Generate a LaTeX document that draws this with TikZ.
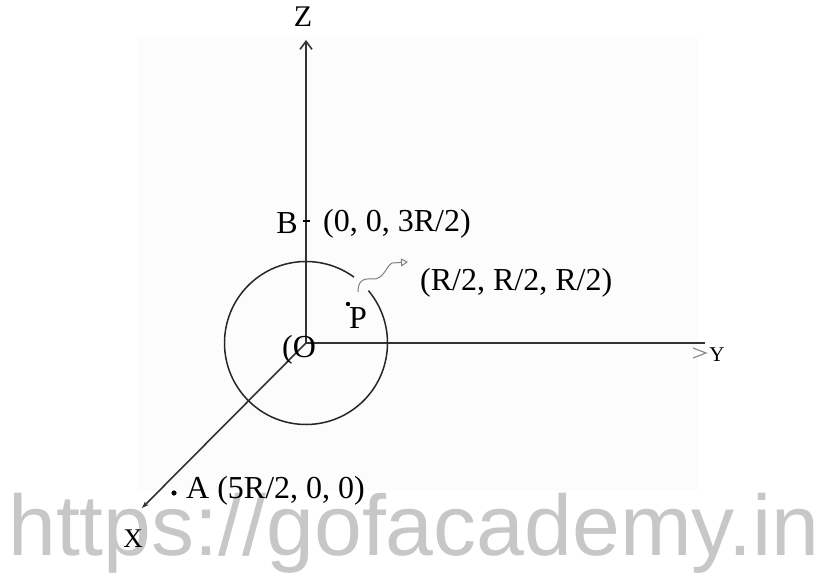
\documentclass[tikz,border=0pt]{standalone}
\usepackage{fontspec}
\setmainfont{Liberation Serif}
\newfontfamily\wmfont{Liberation Sans}
\usetikzlibrary{arrows.meta}

\begin{document}
\begin{tikzpicture}[
    x=1pt, y=-1pt,
    axis/.style={draw=black!80, line width=1.6pt},
    lbl/.style={inner sep=0pt, font=\fontsize{32}{36}\selectfont},
    dotmark/.style={fill=black, draw=none}
  ]
    \useasboundingbox (0,0) rectangle (822,573);
    \clip (0,0) rectangle (822,573);
    \fill[black!1] (139,37) rectangle (698,490);

    % watermark
    \node[inner sep=0pt, anchor=base west, text=black!22, font=\wmfont\fontsize{86}{90}\selectfont] (wm) at (8,555) {https://gofacademy.in};

    \coordinate (O) at (306,343);
    \coordinate (ztip) at (306,40);
    \coordinate (ytip) at (705,343);
    \coordinate (xtip) at (142,508);
    \coordinate (btick) at (306,221);
    \coordinate (pt) at (348,304);
    \coordinate (apt) at (174,493);
    \coordinate (wavy) at (358,292);
    \coordinate (wavyend) at (408,262);

    % axes
    \draw[axis, -{Straight Barb[length=8pt,width=12pt]}] (O) -- (ztip);
    \draw[axis] (O) -- (ytip);
    \draw[axis, -{Stealth[length=7pt,width=5pt]}] (O) -- (xtip);
    \draw[black!45, line width=1.2pt] (693,348) -- (706,353) -- (693,358);

    % sphere with a gap
    \draw[black!85, line width=1.5pt] (O) ++(-40:81.5) arc[start angle=-40, end angle=306, radius=81.5];

    % points
    \draw[line width=1.5pt] ([xshift=-3.5pt]btick) -- ([xshift=3.5pt]btick);
    \fill[dotmark] (pt) circle[radius=2.2];
    \fill[dotmark] (apt) circle[radius=2.6];
    \draw[black!50, line width=1pt, -{Triangle[open,length=7pt,width=8pt]}]
      (wavy) .. controls (358,282) and (362,278) .. (372,279)
      .. controls (384,280) and (386,266) .. (392,263) -- (wavyend);

    % labels
    \node[lbl, font=\fontsize{30}{34}\selectfont] (zlbl) at (303,17) {Z};
    \node[lbl, font=\fontsize{21}{24}\selectfont] (ylbl) at (717,355) {Y};
    \node[lbl, font=\fontsize{27}{30}\selectfont] (xlbl) at (133,539) {X};
    \node[lbl] (blbl) at (287,223) {B};
    \node[lbl, anchor=west] (bcoord) at (323,224) {(0, 0, 3R/2)};
    \node[lbl, anchor=west] (pcoord) at (420,283) {(R/2, R/2, R/2)};
    \node[lbl] (plbl) at (358,318) {P};
    \node[lbl, anchor=west] (olbl) at (282,350) {(O};
    \node[lbl, anchor=west] (acoord) at (186,491) {A (5R/2, 0, 0)};
  \end{tikzpicture}
\end{document}
